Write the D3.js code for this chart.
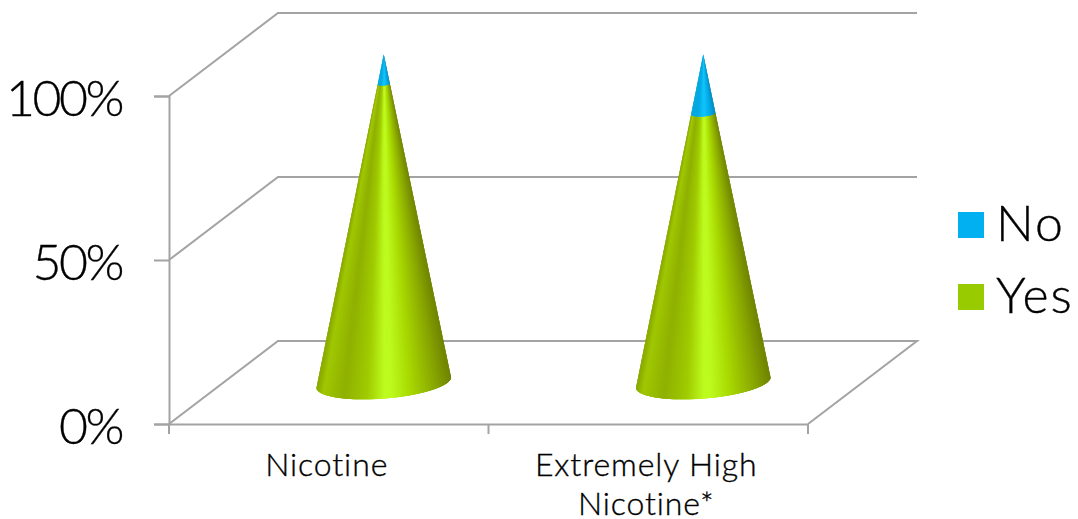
<!DOCTYPE html>
<html>
<head>
<meta charset="utf-8">
<script src="https://cdn.jsdelivr.net/npm/d3@7.9.0/dist/d3.min.js"></script>
<style>
  html, body { margin: 0; background: #fff; }
  svg { display: block; }
  text { font-family: "Lato", "Open Sans", sans-serif; font-weight: 300; fill: #000; stroke: #000; stroke-width: 0.35; }
  .grid { fill: none; stroke: #a3a3a3; stroke-width: 2; }
  .axis path, .axis line { stroke: #a3a3a3; stroke-width: 2; }
</style>
</head>
<body>
<svg id="chart" width="1078" height="519"></svg>
<script>
const categories = ['Nicotine', 'Extremely High Nicotine*'];
const categoryLines = [['Nicotine'], ['Extremely High', 'Nicotine*']];
const seriesNames = ['No', 'Yes'];
const yesValues = [0.91, 0.82];
const noValues = [0.09, 0.18];
const yTicks = [0, 0.5, 1];

const width = 1078;
const height = 519;
const plot = { left: 169, right: 808, top: 96, bottom: 424 };
const depth = { x: 109, y: -83 };

const svg = d3.select('#chart');

const xScale = d3.scaleBand().domain(categories).range([plot.left, plot.right]);
const yScale = d3.scaleLinear().domain([0, 1]).range([plot.bottom, plot.top]);

// back wall, side wall and floor lines
const wallLines = svg.append('g').attr('class', 'grid');
yTicks.forEach((t) => {
  const y = yScale(t);
  const pts = [[plot.left, y], [plot.left + depth.x, y + depth.y], [plot.right + depth.x, y + depth.y]];
  if (t === 0) pts.push([plot.right, y]);
  wallLines.append('path').attr('d', d3.line()(pts));
});

// axes
svg.append('g')
  .attr('class', 'axis')
  .attr('transform', `translate(${plot.left},0)`)
  .call(d3.axisLeft(yScale).tickValues(yTicks).tickFormat(d3.format('.0%')).tickSize(15).tickPadding(32))
  .call((g) => g.selectAll('text').style('font-size', '50px').style('letter-spacing', '-2.5px').attr('dy', '0.38em'));

const xAxis = svg.append('g')
  .attr('class', 'axis')
  .attr('transform', `translate(0,${plot.bottom})`)
  .call(d3.axisBottom(xScale).tickSize(0).tickFormat(''));
xAxis.selectAll('.tick line').remove();
const boundaries = [plot.left, plot.left + xScale.step(), plot.right];
xAxis.selectAll('line.sep').data(boundaries).join('line')
  .attr('class', 'sep')
  .attr('x1', (d) => d).attr('x2', (d) => d)
  .attr('y1', 0).attr('y2', 10);

categories.forEach((c, i) => {
  const label = svg.append('text')
    .attr('text-anchor', 'middle')
    .style('font-size', '32px')
    .style('letter-spacing', '0.9px');
  categoryLines[i].forEach((line, k) => {
    label.append('tspan')
      .attr('x', xScale(c) + xScale.bandwidth() / 2 - 2)
      .attr('y', 476 + k * 39)
      .text(line);
  });
});

// cones, built from thin slices so the shading narrows towards the tip
const tilt = Math.atan2(-11, 134.5);
const rx = 67.5;
const ry = 16;
const shade = {
  Yes: d3.scaleLinear()
    .domain([-1, -0.9, -0.6, -0.25, 0, 0.1, 0.4, 0.75, 1])
    .range(['#8aa800', '#a0c800', '#8fb000', '#a0cc00', '#bdfa1e', '#bdfa1e', '#a8d800', '#8aa800', '#708400']),
  No: d3.scaleLinear()
    .domain([-1, -0.5, 0.05, 0.6, 1])
    .range(['#00a8e0', '#00a8e0', '#10c4ff', '#00a8e4', '#0088bc'])
};

function conePoint(cx, baseY, apexY, theta, t) {
  const r = 1 - t;
  const ex = rx * Math.cos(theta) * r;
  const ey = ry * Math.sin(theta) * r;
  return [
    cx + ex * Math.cos(tilt) - ey * Math.sin(tilt),
    baseY + (apexY - baseY) * t + ex * Math.sin(tilt) + ey * Math.cos(tilt)
  ];
}

// slices run right to left and each overlaps the next, which hides the seams
const thetas = d3.range(0, 181, 1.5).map((d) => d * Math.PI / 180);

categories.forEach((c, i) => {
  const cx = xScale(c) + xScale.bandwidth() / 2 + depth.x / 2 + 0.5;
  const baseY = yScale(0) + depth.y / 2;
  const apexY = yScale(1) + depth.y / 2;
  const g = svg.append('g').attr('class', 'cone');
  const tiers = [
    { name: 'Yes', from: 0, to: yesValues[i] },
    { name: 'No', from: yesValues[i], to: yesValues[i] + noValues[i] }
  ];
  tiers.forEach((tier) => {
    g.selectAll(null)
      .data(thetas.slice(0, -1))
      .join('path')
      .attr('d', (th, k) => {
        const next = thetas[Math.min(k + 3, thetas.length - 1)];
        return d3.line()([
          conePoint(cx, baseY, apexY, th, tier.from),
          conePoint(cx, baseY, apexY, next, tier.from),
          conePoint(cx, baseY, apexY, next, tier.to),
          conePoint(cx, baseY, apexY, th, tier.to)
        ]) + 'Z';
      })
      .attr('fill', (th) => shade[tier.name](Math.cos(th)));
  });
});

// legend
const legendColor = d3.scaleOrdinal().domain(seriesNames).range(['#00b0f0', '#99cc00']);
const legendY = d3.scalePoint().domain(seriesNames).range([225, 297]);
const legend = svg.append('g').selectAll('g').data(seriesNames).join('g')
  .attr('transform', (d) => `translate(958,${legendY(d)})`);
legend.append('rect')
  .attr('y', -13).attr('width', 26).attr('height', 26)
  .attr('fill', (d) => legendColor(d));
legend.append('text')
  .attr('x', 38).attr('y', 16)
  .style('font-size', '50px')
  .style('letter-spacing', '2px')
  .text((d) => d);
</script>
</body>
</html>
